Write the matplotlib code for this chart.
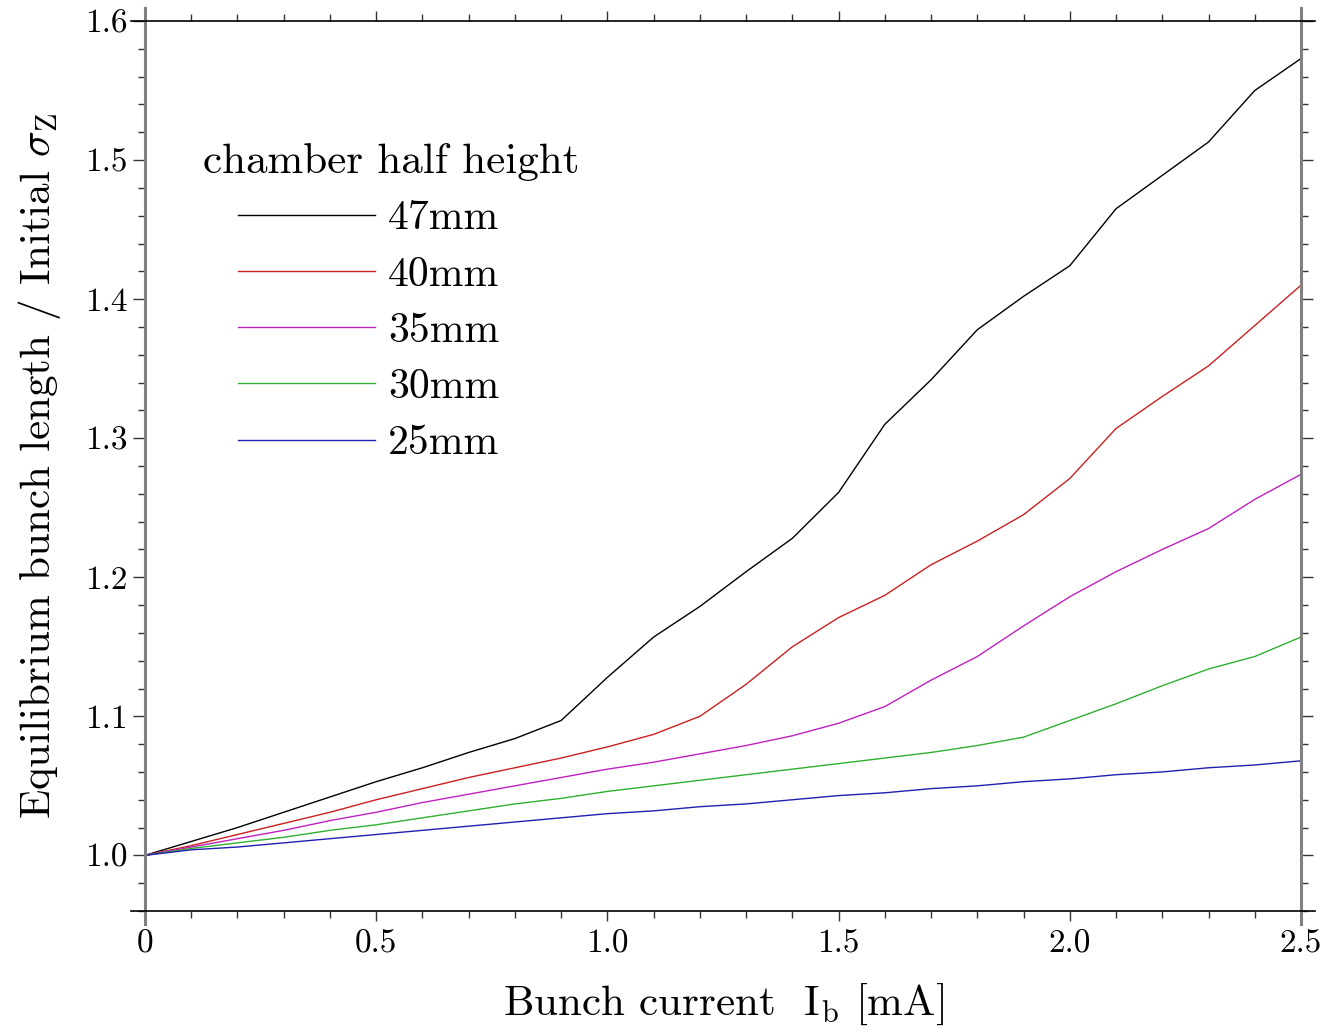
import numpy as np
import matplotlib
matplotlib.use('Agg')
import matplotlib.pyplot as plt
from matplotlib.ticker import MultipleLocator, FuncFormatter

plt.rcParams['font.family'] = ['cmr10', 'DejaVu Serif']
plt.rcParams['mathtext.fontset'] = 'cm'
plt.rcParams['axes.formatter.use_mathtext'] = True

# bunch current [mA]
current = [0.0, 0.1, 0.2, 0.3, 0.4, 0.5, 0.6, 0.7, 0.8, 0.9, 1.0, 1.1, 1.2,
           1.3, 1.4, 1.5, 1.6, 1.7, 1.8, 1.9, 2.0, 2.1, 2.2, 2.3, 2.4, 2.5]

# equilibrium / initial bunch length for each chamber half height
h47 = [1.000, 1.010, 1.020, 1.031, 1.042, 1.053, 1.063, 1.074, 1.084, 1.097,
       1.128, 1.157, 1.179, 1.204, 1.228, 1.261, 1.310, 1.342, 1.378, 1.402,
       1.424, 1.465, 1.489, 1.513, 1.550, 1.573]
h40 = [1.000, 1.007, 1.015, 1.023, 1.031, 1.040, 1.048, 1.056, 1.063, 1.070,
       1.078, 1.087, 1.100, 1.123, 1.150, 1.171, 1.187, 1.209, 1.226, 1.245,
       1.271, 1.307, 1.330, 1.352, 1.381, 1.410]
h35 = [1.000, 1.006, 1.012, 1.018, 1.025, 1.031, 1.038, 1.044, 1.050, 1.056,
       1.062, 1.067, 1.073, 1.079, 1.086, 1.095, 1.107, 1.126, 1.143, 1.165,
       1.186, 1.204, 1.220, 1.235, 1.256, 1.274]
h30 = [1.000, 1.005, 1.009, 1.013, 1.018, 1.022, 1.027, 1.032, 1.037, 1.041,
       1.046, 1.050, 1.054, 1.058, 1.062, 1.066, 1.070, 1.074, 1.079, 1.085,
       1.097, 1.109, 1.122, 1.134, 1.143, 1.157]
h25 = [1.000, 1.004, 1.006, 1.009, 1.012, 1.015, 1.018, 1.021, 1.024, 1.027,
       1.030, 1.032, 1.035, 1.037, 1.040, 1.043, 1.045, 1.048, 1.050, 1.053,
       1.055, 1.058, 1.060, 1.063, 1.065, 1.068]

series = [h47, h40, h35, h30, h25]
labels = ['47mm', '40mm', '35mm', '30mm', '25mm']
colors = ['#000000', '#cc2020', '#c020c0', '#30b030', '#2020b0']

fig = plt.figure(figsize=(13.25, 10.31), dpi=100)
ax = fig.add_axes([145 / 1325, 1 - 911 / 1031, 1156 / 1325, 890 / 1031])

for ys, lab, c in zip(series, labels, colors):
    ax.plot(current, ys, color=c, lw=1.0, label=lab)

ax.set_xlim(0, 2.5)
ax.set_ylim(0.96, 1.6)

ax.xaxis.set_major_locator(MultipleLocator(0.5))
ax.xaxis.set_minor_locator(MultipleLocator(0.1))
ax.yaxis.set_major_locator(MultipleLocator(0.1))
ax.yaxis.set_minor_locator(MultipleLocator(0.02))
ax.xaxis.set_major_formatter(FuncFormatter(lambda v, p: '0' if abs(v) < 1e-9 else f'{v:.1f}'))
ax.yaxis.set_major_formatter(FuncFormatter(lambda v, p: f'{v:.1f}'))

ax.tick_params(axis='both', which='both', direction='out', labelsize=24, width=1.0,
               top=True, right=True, color='#333333')
ax.tick_params(axis='x', which='major', length=7, pad=6)
ax.tick_params(axis='x', which='minor', length=5)
ax.tick_params(axis='y', which='major', length=8.6, pad=4)
ax.tick_params(axis='y', which='minor', length=5)

for s in ['left', 'right']:
    ax.spines[s].set_color('#808080')
    ax.spines[s].set_linewidth(2.2)
    ax.spines[s].set_bounds(0.951, 1.609)
for s in ['top', 'bottom']:
    ax.spines[s].set_linewidth(1.2)
    ax.spines[s].set_bounds(-0.03, 2.53)

ax.set_xlabel(r'Bunch current  I$_{\rm b}$ [mA]', fontsize=31, labelpad=17)
ax.set_ylabel(r'Equilibrium bunch length / Initial $\sigma_{\rm Z}$', fontsize=31, labelpad=16)

ax.text(0.05, 0.842, 'chamber half height', transform=ax.transAxes,
        fontsize=31, va='center', ha='left')
ax.legend(loc='upper left', bbox_to_anchor=(0.0804, 0.799), frameon=False,
          fontsize=30, handlelength=3.3, handletextpad=0.3, labelspacing=0.45,
          borderpad=0, borderaxespad=0)

fig.savefig('out.png', dpi=100)
